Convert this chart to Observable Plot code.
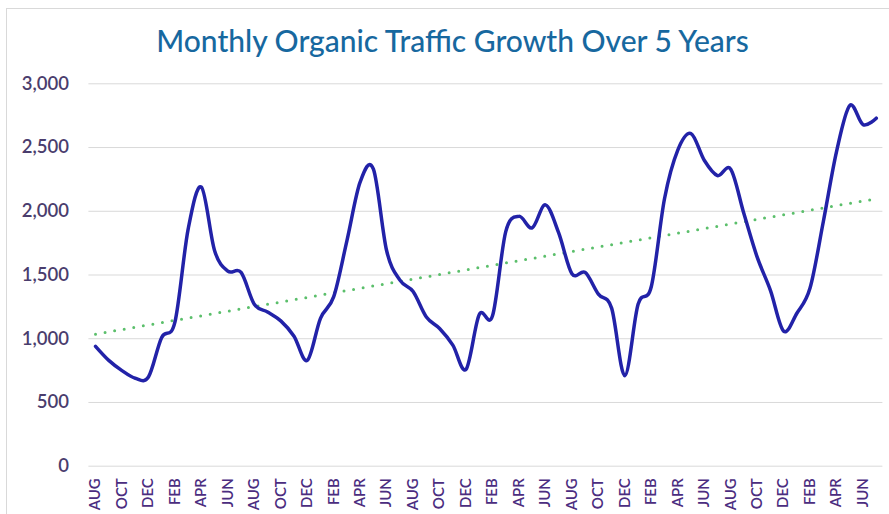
<!DOCTYPE html>
<html><head><meta charset="utf-8">
<script src="https://cdn.jsdelivr.net/npm/d3@7"></script>
<script src="https://cdn.jsdelivr.net/npm/@observablehq/plot@0.6"></script>
<style>
body{margin:0;background:#fff;}
#wrap{position:relative;width:889px;height:514px;overflow:hidden;font-family:Lato,sans-serif;background:#fff;}
#frame{position:absolute;left:6px;top:8px;width:900px;height:600px;border-left:1px solid #d9d9d9;border-top:1px solid #d9d9d9;}
#title{position:absolute;left:0;top:21px;width:905px;text-align:center;font-size:30px;color:#17689f;line-height:38px;font-weight:500;}
#chart{position:absolute;left:0;top:0;}
</style></head><body>
<div id="wrap"><div id="frame"></div><div id="chart"></div><div id="title">Monthly Organic Traffic Growth Over 5 Years</div></div>
<script>
const months = [
  "AUG","SEP","OCT","NOV","DEC","JAN","FEB","MAR","APR","MAY","JUN","JUL",
  "AUG","SEP","OCT","NOV","DEC","JAN","FEB","MAR","APR","MAY","JUN","JUL",
  "AUG","SEP","OCT","NOV","DEC","JAN","FEB","MAR","APR","MAY","JUN","JUL",
  "AUG","SEP","OCT","NOV","DEC","JAN","FEB","MAR","APR","MAY","JUN","JUL",
  "AUG","SEP","OCT","NOV","DEC","JAN","FEB","MAR","APR","MAY","JUN","JUL"
];
const traffic = [
  940, 830, 750, 690, 700, 1010, 1130, 1860, 2190, 1690, 1530, 1520,
  1270, 1210, 1140, 1020, 830, 1160, 1330, 1770, 2230, 2330, 1690, 1460,
  1370, 1170, 1080, 950, 760, 1190, 1180, 1840, 1960, 1870, 2050, 1830,
  1510, 1520, 1350, 1240, 710, 1270, 1410, 2100, 2480, 2610, 2400, 2280,
  2330, 1980, 1640, 1380, 1060, 1200, 1400, 1920, 2470, 2830, 2680, 2730
];
const yTicks = [0, 500, 1000, 1500, 2000, 2500, 3000];
const xTickIndex = d3.range(0, months.length, 2);

const data = traffic.map((v, i) => ({i, month: months[i], v}));

const chart = Plot.plot({
  width: 889, height: 514,
  marginTop: 83.3, marginBottom: 48.3, marginLeft: 88.4, marginRight: 6.6,
  style: {fontFamily: "Lato, sans-serif", background: "transparent", overflow: "visible"},
  x: {type: "linear", domain: [-0.5, months.length - 0.5]},
  y: {domain: [0, 3000]},
  marks: [
    Plot.ruleY(yTicks, {stroke: "#d9d9d9", strokeWidth: 1}),
    Plot.axisY(yTicks, {tickFormat: d3.format(","), tickSize: 0, tickPadding: 20, fontSize: 18.5, fontWeight: 600, fill: "#4a3d6d", label: null}),
    Plot.axisX(xTickIndex, {tickFormat: i => months[i], tickRotate: -90, tickSize: 0, tickPadding: 12, fontSize: 15, fontWeight: 600, fill: "#4b2d80", label: null}),
    Plot.linearRegressionY(data, {x: "i", y: "v", ci: 0, stroke: "#5bbf6b", strokeWidth: 3, strokeDasharray: "0 9.7", strokeLinecap: "round"}),
    Plot.line(data, {x: "i", y: "v", curve: "cardinal", stroke: "#2222a8", strokeWidth: 3.5, strokeLinejoin: "round", strokeLinecap: "round"})
  ]
});
document.getElementById("chart").appendChild(chart);
</script>
</body></html>
